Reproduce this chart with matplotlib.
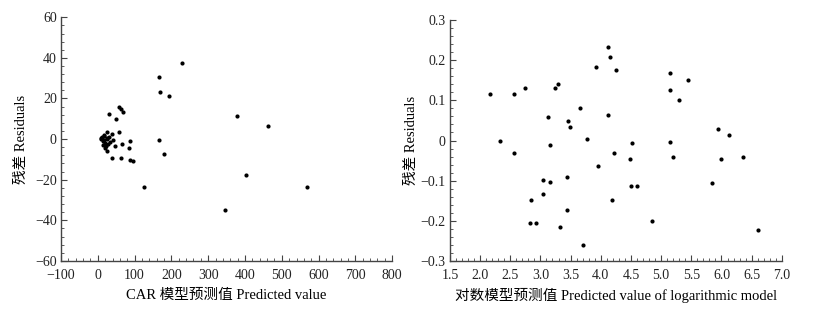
import matplotlib
matplotlib.use("Agg")
import matplotlib.pyplot as plt
from matplotlib.ticker import MultipleLocator

FONT = ['Liberation Serif', 'Noto Sans CJK SC']
plt.rcParams['font.family'] = FONT

# Left panel: CAR model predicted value vs residuals
car_pred = [228, 165, 168, 194, 377, 463, 165, 179, 30, 49, 58, 64, 69,
            24, 39, 58, 42, 88, 48, 66, 84, 39, 62, 88, 95, 126, 346, 403, 569, 26,
            12, 15, 10, 18, 20, 22, 14, 25, 28, 17, 30, 24, 20, 8, 16, 32]
car_resid = [37.4, 30.8, 23.3, 21.3, 11.6, 6.5, -0.4, -7.4, 12.3, 9.8, 15.7, 14.7, 13.5,
             3.7, 2.7, 3.4, -0.4, -1.0, -3.5, -2.4, -4.2, -9.4, -9.4, -10.1, -10.7, -23.5,
             -35.0, -17.6, -23.5, -5.8,
             1.0, -1.0, 0.5, 2.0, -2.0, -3.5, -3.0, 0.0, -2.5, 1.5, 1.0, 0.5, -4.5, 0.0, -0.5, -1.5]

# Right panel: logarithmic model predicted value vs residuals
log_pred = [2.16, 2.33, 2.57, 2.57, 2.75, 3.12, 3.16, 3.25, 3.29, 3.46, 3.49, 3.65, 3.78,
            3.92, 4.115, 4.16, 4.115, 4.26, 4.225, 4.51, 4.49, 5.14, 5.14, 5.29, 5.44, 5.14,
            5.19, 5.94, 6.13, 6.00, 6.35, 3.96, 3.05, 3.16, 3.44, 2.85, 3.05, 3.44, 2.83,
            2.92, 3.33, 3.70, 4.18, 4.50, 4.60, 4.85, 5.85, 6.61]
log_resid = [0.116, 0.000, 0.116, -0.032, 0.130, 0.059, -0.010, 0.130, 0.141, 0.049, 0.034,
             0.081, 0.004, 0.183, 0.233, 0.208, 0.063, 0.176, -0.032, -0.007, -0.046, 0.169,
             0.126, 0.102, 0.152, -0.004, -0.042, 0.028, 0.014, -0.046, -0.042, -0.064,
             -0.099, -0.103, -0.092, -0.148, -0.134, -0.174, -0.205, -0.205, -0.215, -0.261,
             -0.148, -0.113, -0.113, -0.201, -0.107, -0.223]

left_xlabel = 'CAR 模型预测值 Predicted value'
right_xlabel = '对数模型预测值 Predicted value of logarithmic model'
ylabel = '残差 Residuals'

fig = plt.figure(figsize=(8.3, 3.14), dpi=100)
ax1 = fig.add_axes([0.0735, 0.169, 0.399, 0.776])
ax2 = fig.add_axes([0.542, 0.169, 0.400, 0.767])

axis_col = '#444444'

def style(ax):
    for s in ['top', 'right']:
        ax.spines[s].set_visible(False)
    for s in ['left', 'bottom']:
        ax.spines[s].set_color(axis_col)
        ax.spines[s].set_linewidth(1.0)
    ax.tick_params(which='major', direction='in', length=4, width=0.8, color=axis_col,
                   labelsize=10, labelcolor='#222222')
    ax.tick_params(axis='x', which='major', pad=6)
    ax.tick_params(axis='y', which='major', pad=3)
    ax.tick_params(which='minor', direction='in', length=2, width=0.6, color=axis_col)
    for lab in ax.get_xticklabels() + ax.get_yticklabels():
        lab.set_family(FONT)

ax1.scatter(car_pred, car_resid, s=9, color='black', linewidths=0, zorder=3)
ax1.set_xlim(-100, 800)
ax1.set_ylim(-60, 60)
ax1.xaxis.set_major_locator(MultipleLocator(100))
ax1.xaxis.set_minor_locator(MultipleLocator(20))
ax1.yaxis.set_major_locator(MultipleLocator(20))
ax1.yaxis.set_minor_locator(MultipleLocator(4))
ax1.set_xlabel(left_xlabel, fontsize=10.5, labelpad=5)
ax1.set_ylabel(ylabel, fontsize=10.5, labelpad=5)
style(ax1)

ax2.scatter(log_pred, log_resid, s=9, color='black', linewidths=0, zorder=3)
ax2.set_xlim(1.5, 7.0)
ax2.set_ylim(-0.3, 0.3)
ax2.xaxis.set_major_locator(MultipleLocator(0.5))
ax2.xaxis.set_minor_locator(MultipleLocator(0.1))
ax2.yaxis.set_major_locator(MultipleLocator(0.1))
ax2.yaxis.set_minor_locator(MultipleLocator(0.02))
ax2.set_xticks([1.5 + 0.5 * i for i in range(12)])
ax2.set_xticklabels([f'{1.5 + 0.5 * i:.1f}' for i in range(12)])
ax2.set_yticks([-0.3, -0.2, -0.1, 0, 0.1, 0.2, 0.3])
ax2.set_yticklabels(['\u22120.3', '\u22120.2', '\u22120.1', '0', '0.1', '0.2', '0.3'])
ax2.set_xlabel(right_xlabel, fontsize=10.5, labelpad=4)
ax2.set_ylabel(ylabel, fontsize=10.5, labelpad=2)
style(ax2)

fig.savefig('out.png', dpi=100)
